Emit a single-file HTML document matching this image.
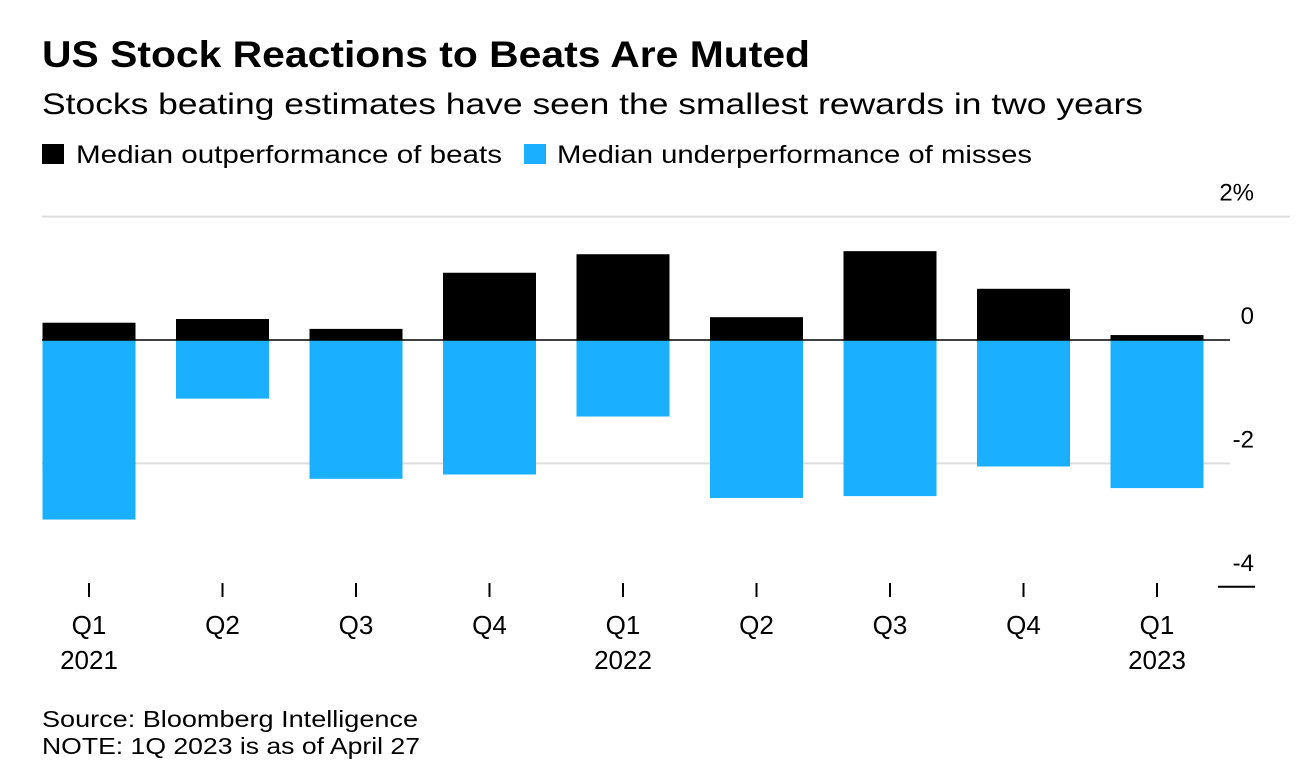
<!DOCTYPE html>
<html><head><meta charset="utf-8"><style>
body{margin:0;background:#fff;font-family:"Liberation Sans",sans-serif;}
svg{display:block}
</style></head><body>
<svg width="1314" height="782" xmlns="http://www.w3.org/2000/svg">
<text x="42" y="67" font-size="37" font-weight="bold" fill="#000" textLength="768" lengthAdjust="spacingAndGlyphs">US Stock Reactions to Beats Are Muted</text>
<text x="42" y="114" font-size="30" fill="#000" textLength="1101" lengthAdjust="spacingAndGlyphs">Stocks beating estimates have seen the smallest rewards in two years</text>
<g>
<rect x="42" y="144" width="22" height="20" fill="#000"/>
<text x="76" y="163" font-size="25" textLength="426" lengthAdjust="spacingAndGlyphs">Median outperformance of beats</text>
<rect x="524" y="144" width="22" height="20" fill="#1aafff"/>
<text x="557" y="163" font-size="25" textLength="475" lengthAdjust="spacingAndGlyphs">Median underperformance of misses</text>
</g>
<g id="plot"></g>
<text x="42" y="727" font-size="23" textLength="376" lengthAdjust="spacingAndGlyphs">Source: Bloomberg Intelligence</text>
<text x="42" y="754" font-size="23" textLength="378" lengthAdjust="spacingAndGlyphs">NOTE: 1Q 2023 is as of April 27</text>
</svg>
<script>
const quarters=["Q1","Q2","Q3","Q4","Q1","Q2","Q3","Q4","Q1"];
const years=["2021","","","","2022","","","","2023"];
const beats=[0.28,0.34,0.18,1.09,1.39,0.37,1.44,0.83,0.08];
const misses=[-2.91,-0.95,-2.25,-2.18,-1.24,-2.56,-2.53,-2.05,-2.4];
const yTicks=[2,0,-2,-4];
const yTickLabels=["2%","0","-2","-4"];
const NS="http://www.w3.org/2000/svg";
const g=document.getElementById('plot');
const y=v=>340-v*61.7;
const x=i=>89+i*133.5;
const bw=93;
function mk(t,a){const e=document.createElementNS(NS,t);for(const k in a)e.setAttribute(k,a[k]);g.appendChild(e);return e;}
yTicks.forEach((t,i)=>{
  if(t!==0&&t!==-4){const l=mk('line',{x1:42,x2:t===2?1290:1230,y1:y(t),y2:y(t),stroke:'#ddd','stroke-width':2});
    
    }
  if(t===-4){const l=mk('line',{x1:1218,x2:1255,y1:y(t),y2:y(t),stroke:'#000','stroke-width':2});
    
    }
  const tx=mk('text',{x:1254,y:y(t)-16,'font-size':24,'text-anchor':'end'});
  tx.textContent=yTickLabels[i];
  
  
});
quarters.forEach((q,i)=>{
  const b=mk('rect',{x:x(i)-bw/2,y:y(beats[i]),width:bw,height:y(0)-y(beats[i]),fill:'#000'});
  
  
  const m=mk('rect',{x:x(i)-bw/2,y:y(0),width:bw,height:y(misses[i])-y(0),fill:'#1aafff'});
  
  
  const tk=mk('line',{x1:x(i),x2:x(i),y1:583,y2:597,stroke:'#000','stroke-width':2});
  
  
  const t=mk('text',{x:x(i),y:634,'font-size':26,'text-anchor':'middle'});
  t.textContent=q;
  
  
  if(years[i]){const yt=mk('text',{x:x(i),y:669,'font-size':26,'text-anchor':'middle'});
    yt.textContent=years[i];
    
    }
});
const z=mk('line',{x1:42,x2:1230,y1:y(0),y2:y(0),stroke:'#000','stroke-width':1.5});


</script>
</body></html>
